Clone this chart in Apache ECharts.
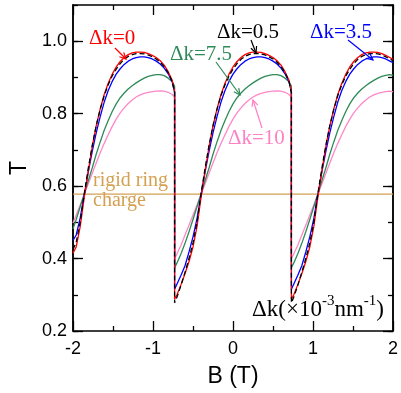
<!DOCTYPE html>
<html><head><meta charset="utf-8">
<script src="https://cdn.jsdelivr.net/npm/echarts@6/dist/echarts.min.js"></script>
<style>html,body{margin:0;padding:0;background:#fff}#c{width:401px;height:393px}</style>
</head><body><div id="c"></div>
<script>
// Field B (T): three periods with vertical jumps at B = -0.73 and 0.73
const B = [-2.00,-1.96,-1.91,-1.86,-1.81,-1.76,-1.71,-1.66,-1.61,-1.56,-1.51,-1.46,-1.41,-1.36,-1.31,-1.26,-1.21,-1.16,-1.11,-1.06,-1.01,-0.96,-0.91,-0.86,-0.81,-0.76,-0.73,
 -0.73,-0.70,-0.65,-0.60,-0.55,-0.50,-0.45,-0.40,-0.35,-0.30,-0.25,-0.20,-0.15,-0.10,-0.05,0.00,0.05,0.10,0.15,0.20,0.25,0.30,0.35,0.40,0.45,0.50,0.55,0.60,0.65,0.70,0.73,
 0.73,0.76,0.81,0.86,0.91,0.96,1.01,1.06,1.11,1.16,1.21,1.26,1.31,1.36,1.41,1.46,1.51,1.56,1.61,1.66,1.71,1.76,1.81,1.86,1.91,1.96,2.00];

const T_dk0 = [0.415,0.432,0.488,0.568,0.640,0.708,0.766,0.813,0.853,0.884,0.909,0.929,0.944,0.955,0.963,0.968,0.970,0.970,0.969,0.966,0.961,0.955,0.946,0.934,0.916,0.892,0.860,
 0.288,0.300,0.328,0.358,0.392,0.432,0.488,0.568,0.640,0.708,0.766,0.813,0.853,0.884,0.909,0.929,0.944,0.955,0.963,0.968,0.970,0.970,0.969,0.966,0.961,0.955,0.946,0.934,0.916,0.892,0.860,
 0.288,0.300,0.328,0.358,0.392,0.432,0.488,0.568,0.640,0.708,0.766,0.813,0.853,0.884,0.909,0.929,0.944,0.955,0.963,0.968,0.970,0.970,0.969,0.966,0.961,0.955,0.950];

const T_dk05 = [0.425,0.445,0.500,0.578,0.648,0.712,0.767,0.812,0.850,0.880,0.904,0.923,0.938,0.950,0.958,0.963,0.966,0.966,0.965,0.962,0.957,0.951,0.942,0.930,0.913,0.889,0.858,
 0.278,0.294,0.326,0.362,0.400,0.443,0.500,0.578,0.648,0.712,0.767,0.812,0.850,0.880,0.904,0.923,0.938,0.950,0.958,0.963,0.966,0.966,0.965,0.962,0.957,0.951,0.942,0.930,0.913,0.889,0.858,
 0.278,0.294,0.326,0.362,0.400,0.443,0.500,0.578,0.648,0.712,0.767,0.812,0.850,0.880,0.904,0.923,0.938,0.950,0.958,0.963,0.966,0.966,0.965,0.962,0.957,0.951,0.946];

const T_dk35 = [0.450,0.465,0.512,0.575,0.638,0.695,0.747,0.792,0.832,0.864,0.889,0.909,0.924,0.936,0.945,0.951,0.955,0.957,0.957,0.955,0.951,0.945,0.937,0.926,0.910,0.888,0.860,
 0.315,0.330,0.354,0.380,0.418,0.460,0.510,0.575,0.638,0.695,0.747,0.792,0.832,0.864,0.889,0.909,0.924,0.936,0.945,0.951,0.955,0.957,0.957,0.955,0.951,0.945,0.937,0.926,0.910,0.888,0.860,
 0.315,0.330,0.354,0.380,0.418,0.460,0.510,0.575,0.638,0.695,0.747,0.792,0.832,0.864,0.889,0.909,0.924,0.936,0.945,0.951,0.955,0.957,0.957,0.955,0.951,0.945,0.941];

const T_dk75 = [0.482,0.508,0.543,0.578,0.614,0.650,0.688,0.722,0.754,0.781,0.806,0.827,0.844,0.857,0.868,0.877,0.885,0.892,0.898,0.903,0.906,0.908,0.908,0.905,0.898,0.888,0.876,
 0.375,0.388,0.413,0.442,0.474,0.508,0.543,0.578,0.614,0.650,0.688,0.722,0.754,0.781,0.806,0.827,0.844,0.857,0.868,0.877,0.885,0.892,0.898,0.903,0.906,0.908,0.908,0.905,0.898,0.888,0.876,
 0.375,0.388,0.413,0.442,0.474,0.508,0.543,0.578,0.614,0.650,0.688,0.722,0.754,0.781,0.806,0.827,0.844,0.857,0.868,0.877,0.885,0.892,0.898,0.903,0.906,0.908,0.906];

const T_dk10 = [0.498,0.520,0.548,0.577,0.606,0.635,0.664,0.692,0.718,0.742,0.765,0.785,0.802,0.816,0.828,0.838,0.846,0.852,0.856,0.859,0.861,0.862,0.863,0.862,0.859,0.853,0.846,
 0.400,0.413,0.437,0.465,0.492,0.520,0.548,0.577,0.606,0.635,0.664,0.692,0.718,0.742,0.765,0.785,0.802,0.816,0.828,0.838,0.846,0.852,0.856,0.859,0.861,0.862,0.863,0.862,0.859,0.853,0.846,
 0.400,0.413,0.437,0.465,0.492,0.520,0.548,0.577,0.606,0.635,0.664,0.692,0.718,0.742,0.765,0.785,0.802,0.816,0.828,0.838,0.846,0.852,0.856,0.859,0.861,0.862,0.860];

const RIGID_B = [-2, 2];
const RIGID_T = [0.578, 0.578];

const xTicks = [-2, -1, 0, 1, 2];
const yTicks = [0.2, 0.4, 0.6, 0.8, 1.0];

function pairs(xs, ys) { return xs.map((x, i) => [x, ys[i]]); }

const chart = echarts.init(document.getElementById('c'), null, {renderer: 'canvas'});
const sans = 'Liberation Sans, Arial, sans-serif';
const serif = 'Liberation Serif, Times New Roman, serif';
const axisLine = {show: true, onZero: false, lineStyle: {color: '#000', width: 1.5}};

function xAx(pos, labels) {
  return {
    type: 'value', position: pos, min: xTicks[0], max: xTicks[xTicks.length - 1], interval: 1,
    axisLine: axisLine, splitLine: {show: false},
    axisTick: {show: true, inside: true, length: 10, lineStyle: {color: '#000', width: 1.3}},
    minorTick: {show: true, splitNumber: 2, length: 5, lineStyle: {color: '#000', width: 1.3}},
    axisLabel: {show: labels, color: '#000', fontSize: 18, fontFamily: sans, margin: 9},
    name: labels ? 'B (T)' : '', nameLocation: 'middle', nameGap: 34,
    nameTextStyle: {color: '#000', fontSize: 23, fontFamily: sans}
  };
}
function yAx(pos, interval, len, labels) {
  return {
    type: 'value', position: pos, min: yTicks[0], max: 1.1, interval: interval,
    axisLine: axisLine, splitLine: {show: false},
    axisTick: {show: true, inside: true, length: len, lineStyle: {color: '#000', width: 1.3}},
    axisLabel: {show: labels, color: '#000', fontSize: 18, fontFamily: sans, margin: 6, showMaxLabel: false,
      formatter: v => (Math.abs(v - 1.1) < 1e-6 ? '' : v.toFixed(1))},
    name: labels ? 'T' : '', nameLocation: 'middle', nameGap: 42, nameRotate: 90,
    nameTextStyle: {color: '#000', fontSize: 23, fontFamily: sans}
  };
}

function lineSeries(name, data, color, dashed, z) {
  return {
    name: name, type: 'line', xAxisIndex: 0, yAxisIndex: 0, data: data, showSymbol: false, symbol: 'none',
    lineStyle: {color: color, width: 1.3, type: dashed ? [5, 3] : 'solid'}, z: z, animation: false, silent: true
  };
}

// annotations (pixel positions)
const labels = [
  {t: 'Δk=0', x: 89, y: 39, c: '#ff0000'},
  {t: 'Δk=7.5', x: 170, y: 55, c: '#2e8b57'},
  {t: 'Δk=0.5', x: 217, y: 33, c: '#000000'},
  {t: 'Δk=3.5', x: 310, y: 33, c: '#0000ff'},
  {t: 'Δk=10', x: 228, y: 139, c: '#ff80c4'},
  {t: 'rigid ring', x: 93, y: 182, c: '#d4a052'},
  {t: 'charge', x: 93, y: 202, c: '#d4a052'}
];
const arrows = [
  {x1: 115, y1: 48, x2: 126, y2: 59, c: '#ff0000'},
  {x1: 251, y1: 40, x2: 256, y2: 53, c: '#000000'},
  {x1: 216, y1: 62, x2: 240, y2: 95, c: '#2e8b57'},
  {x1: 348, y1: 40, x2: 373, y2: 60, c: '#0000ff'},
  {x1: 262, y1: 128, x2: 253, y2: 100, c: '#ff80c4'}
];
const graphic = [];
labels.forEach(l => graphic.push({
  type: 'text', left: l.x, top: l.y - 11, z: 100,
  style: {text: l.t, fill: l.c, font: '21px ' + serif}
}));
graphic[5].style.font = '20px ' + serif;
graphic[6].style.font = '20px ' + serif;
arrows.forEach(a => {
  const ang = Math.atan2(a.y2 - a.y1, a.x2 - a.x1), L = 7, w = 0.45;
  const p1 = [a.x2 - L * Math.cos(ang - w), a.y2 - L * Math.sin(ang - w)];
  const p2 = [a.x2 - L * Math.cos(ang + w), a.y2 - L * Math.sin(ang + w)];
  graphic.push({type: 'line', z: 100, shape: {x1: a.x1, y1: a.y1, x2: a.x2, y2: a.y2}, style: {stroke: a.c, lineWidth: 1.2}});
  graphic.push({type: 'polyline', z: 100, shape: {points: [p1, [a.x2, a.y2], p2]}, style: {stroke: a.c, lineWidth: 1.2, fill: null}});
});
graphic.push({
  type: 'text', left: 252, top: 294, z: 100,
  style: {
    text: '{n|Δk(×10}{s|-3}{n|nm}{s|-1}{n|)}',
    rich: {
      n: {fontSize: 23, fontFamily: serif, fill: '#000', color: '#000', verticalAlign: 'bottom', lineHeight: 27},
      s: {fontSize: 15, fontFamily: serif, fill: '#000', color: '#000', verticalAlign: 'top', lineHeight: 27}
    }
  }
});

chart.setOption({
  animation: false,
  grid: {left: 69, right: 6, top: 5, bottom: 61, containLabel: false},
  xAxis: [xAx('bottom', true), xAx('top', false)],
  yAxis: [yAx('left', 0.2, 10, true), yAx('left', 0.1, 5, false), yAx('right', 0.2, 10, false), yAx('right', 0.1, 5, false)],
  series: [
    {type: 'line', data: pairs(RIGID_B, RIGID_T), showSymbol: false, symbol: 'none', lineStyle: {color: '#d4a052', width: 1.3}, z: 1, silent: true},
    lineSeries('Δk=10', pairs(B, T_dk10), '#ff88c8', false, 2),
    lineSeries('Δk=7.5', pairs(B, T_dk75), '#2e8b57', false, 3),
    lineSeries('Δk=3.5', pairs(B, T_dk35), '#0000ff', false, 4),
    lineSeries('Δk=0', pairs(B, T_dk0), '#ff0000', false, 5),
    lineSeries('Δk=0.5', pairs(B, T_dk05), '#000000', true, 6)
  ],
  graphic: graphic
});
[T_dk0, T_dk05, T_dk35, T_dk75, T_dk10].forEach((a, i) => { if (a.length !== B.length) console.error('length mismatch', i, a.length, B.length); });
</script></body></html>
